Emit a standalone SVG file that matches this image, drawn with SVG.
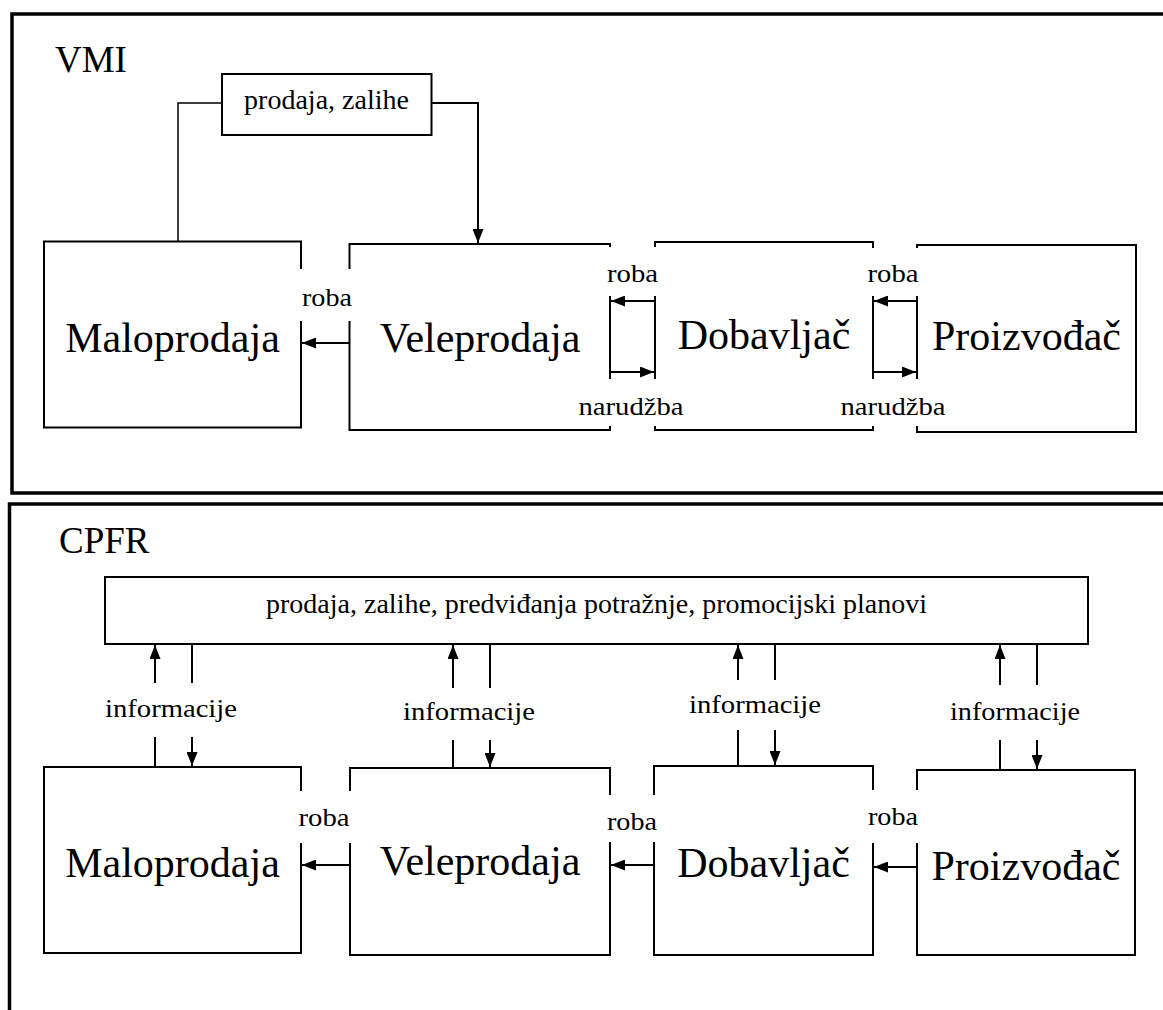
<svg xmlns="http://www.w3.org/2000/svg" width="1163" height="1010" viewBox="0 0 1163 1010">
<style>
.frame{fill:none;stroke:#000;stroke-width:3.5}
.box{fill:none;stroke:#000;stroke-width:2}
.bg{fill:#fff;stroke:none}
.ln{fill:none;stroke:#000;stroke-width:2}
.thin{fill:none;stroke:#000;stroke-width:1.5}
text{font-family:"Liberation Serif","Times New Roman",serif;fill:#000;text-anchor:middle}
.big{font-size:42px}
.title{font-size:37px;text-anchor:start}
.sm{font-size:28px}
.lab{font-size:26px}
.inf{font-size:26px}
</style>
<defs>
<marker id="ah" viewBox="0 0 14 11" refX="14" refY="5.5" markerWidth="14" markerHeight="11" markerUnits="userSpaceOnUse" orient="auto">
<path d="M0,0 L14,5.5 L0,11 Z" fill="#000"/>
</marker>
</defs>
<rect width="1163" height="1010" fill="#fff"/>
<g id="frames">
<path class="frame" d="M1163,14 H12 V493 H1163"/>
<path class="frame" d="M1163,504 H9.5 V1010"/>
</g>
<text class="title" x="55" y="72">VMI</text>
<text class="title" x="59" y="553">CPFR</text>

<g id="vmi-info"><rect class="box" x="222" y="74" width="209.5" height="61"/><text class="sm" x="326.5" y="109">prodaja, zalihe</text></g>
<g id="vmi-maloprodaja"><rect class="box" x="44" y="241.5" width="257" height="186"/><text class="big" x="172.5" y="352">Maloprodaja</text></g>
<g id="vmi-veleprodaja"><rect class="box" x="349.5" y="244" width="260.5" height="186"/><text class="big" x="480" y="352">Veleprodaja</text></g>
<g id="vmi-dobavljac"><rect class="box" x="655" y="242" width="218" height="188"/><text class="big" x="764" y="349">Dobavljač</text></g>
<g id="vmi-proizvodjac"><rect class="box" x="917" y="245" width="219" height="187"/><text class="big" x="1026.5" y="350">Proizvođač</text></g>

<g id="cpfr-info"><rect class="box" x="105" y="577" width="983" height="67"/><text class="sm" x="596.5" y="613">prodaja, zalihe, predviđanja potražnje, promocijski planovi</text></g>
<g id="cpfr-maloprodaja"><rect class="box" x="44" y="767" width="257" height="186"/><text class="big" x="172.5" y="877">Maloprodaja</text></g>
<g id="cpfr-veleprodaja"><rect class="box" x="350" y="768" width="260" height="187"/><text class="big" x="480" y="875">Veleprodaja</text></g>
<g id="cpfr-dobavljac"><rect class="box" x="654" y="766" width="219" height="189"/><text class="big" x="763.5" y="877">Dobavljač</text></g>
<g id="cpfr-proizvodjac"><rect class="box" x="917" y="770" width="218" height="185"/><text class="big" x="1026" y="880">Proizvođač</text></g>

<g id="connectors">
<path class="thin" d="M222,103 H178 V241.5"/>
<path class="ln" d="M431.5,103 H478 V243" marker-end="url(#ah)"/>
<line class="ln" x1="349.5" y1="343" x2="302" y2="343" marker-end="url(#ah)"/>
<line class="ln" x1="655" y1="301" x2="611" y2="301" marker-end="url(#ah)"/>
<line class="ln" x1="610" y1="372" x2="654" y2="372" marker-end="url(#ah)"/>
<line class="ln" x1="917" y1="301" x2="874" y2="301" marker-end="url(#ah)"/>
<line class="ln" x1="873" y1="372" x2="916" y2="372" marker-end="url(#ah)"/>

<line class="ln" x1="350" y1="865" x2="302" y2="865" marker-end="url(#ah)"/>
<line class="ln" x1="654" y1="865" x2="611" y2="865" marker-end="url(#ah)"/>
<line class="ln" x1="917" y1="867" x2="874" y2="867" marker-end="url(#ah)"/>

<line class="ln" x1="155" y1="683" x2="155" y2="645" marker-end="url(#ah)"/>
<line class="ln" x1="192" y1="645" x2="192" y2="683"/>
<line class="ln" x1="155" y1="737" x2="155" y2="767"/>
<line class="ln" x1="192" y1="737" x2="192" y2="766" marker-end="url(#ah)"/>

<line class="ln" x1="453" y1="688" x2="453" y2="645" marker-end="url(#ah)"/>
<line class="ln" x1="490" y1="645" x2="490" y2="688"/>
<line class="ln" x1="453" y1="740" x2="453" y2="768"/>
<line class="ln" x1="490" y1="740" x2="490" y2="767" marker-end="url(#ah)"/>

<line class="ln" x1="738" y1="680" x2="738" y2="645" marker-end="url(#ah)"/>
<line class="ln" x1="775" y1="645" x2="775" y2="680"/>
<line class="ln" x1="738" y1="730" x2="738" y2="766"/>
<line class="ln" x1="775" y1="730" x2="775" y2="765" marker-end="url(#ah)"/>

<line class="ln" x1="1000" y1="685" x2="1000" y2="645" marker-end="url(#ah)"/>
<line class="ln" x1="1037" y1="645" x2="1037" y2="685"/>
<line class="ln" x1="1000" y1="740" x2="1000" y2="770"/>
<line class="ln" x1="1037" y1="740" x2="1037" y2="769" marker-end="url(#ah)"/>
</g>

<g id="labels">
<rect class="bg" x="294" y="269" width="62" height="52"/><text class="lab" x="327" y="306" textLength="50" lengthAdjust="spacingAndGlyphs">roba</text>
<rect class="bg" x="600" y="247" width="64" height="49"/><text class="lab" x="632.5" y="282" textLength="51" lengthAdjust="spacingAndGlyphs">roba</text>
<rect class="bg" x="572" y="379" width="118" height="47"/><text class="lab" x="631" y="415" textLength="105" lengthAdjust="spacingAndGlyphs">narudžba</text>
<rect class="bg" x="862" y="248" width="62" height="48"/><text class="lab" x="893" y="282" textLength="51" lengthAdjust="spacingAndGlyphs">roba</text>
<rect class="bg" x="835" y="379" width="118" height="47"/><text class="lab" x="893" y="415" textLength="105" lengthAdjust="spacingAndGlyphs">narudžba</text>

<rect class="bg" x="294" y="791" width="62" height="52"/><text class="lab" x="324" y="826" textLength="51" lengthAdjust="spacingAndGlyphs">roba</text>
<rect class="bg" x="602" y="795" width="62" height="47"/><text class="lab" x="632" y="830" textLength="50" lengthAdjust="spacingAndGlyphs">roba</text>
<rect class="bg" x="866" y="790" width="58" height="53"/><text class="lab" x="893" y="825" textLength="50" lengthAdjust="spacingAndGlyphs">roba</text>

<text class="inf" x="171" y="717" textLength="132" lengthAdjust="spacingAndGlyphs">informacije</text>
<text class="inf" x="469" y="720" textLength="132" lengthAdjust="spacingAndGlyphs">informacije</text>
<text class="inf" x="755" y="713" textLength="132" lengthAdjust="spacingAndGlyphs">informacije</text>
<text class="inf" x="1015" y="720" textLength="130" lengthAdjust="spacingAndGlyphs">informacije</text>
</g>
</svg>
